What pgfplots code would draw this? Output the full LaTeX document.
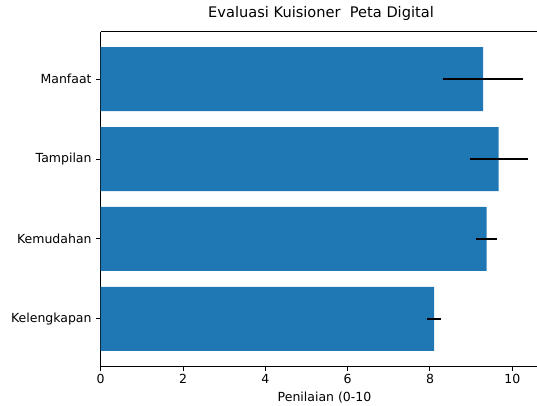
\documentclass[border=0pt]{standalone}
\usepackage{pgfplots}
\pgfplotsset{compat=1.18}
\usepackage{fontspec}
\setmainfont{DejaVu Sans}
\definecolor{mplblue}{HTML}{1F77B4}
\begin{document}
\begin{tikzpicture}
\useasboundingbox (-100.7pt,-39pt) rectangle (436.3pt,366pt);
\begin{axis}[
  at={(0,0)}, anchor=south west,
  scale only axis,
  width=436.3pt, height=334pt,
  xmin=0, xmax=10.6,
  ymin=-0.59, ymax=3.59,
  axis x line*=box, axis y line*=left,
  xtick={0,2,4,6,8,10},
  ytick={0,1,2,3},
  yticklabels={Kelengkapan,Kemudahan,Tampilan,Manfaat},
  xtick pos=left, ytick pos=left,
  tick align=outside,
  major tick length=4.6pt,
  every tick/.style={black, line width=1pt},
  axis line style={black, line width=1pt},
  tick label style={font=\fontsize{12.5}{15}\selectfont, text=black},
  yticklabel style={xshift=-1pt},
  /pgf/number format/assume math mode=true,
  xlabel={Penilaian (0-10},
  xlabel style={at={(axis description cs:0.513,0)}, anchor=base, yshift=-35pt, font=\fontsize{12.5}{15}\selectfont, text=black},
  title={Evaluasi Kuisioner\ \ Peta Digital},
  title style={at={(axis description cs:0.505,1)}, anchor=base, yshift=8pt, font=\fontsize{14.6}{18}\selectfont, text=black},
  xbar, bar width=0.8,
  clip=false,
]
\addplot[fill=mplblue, draw=none,
  error bars/x dir=both, error bars/x explicit,
  error bars/error mark=none,
  error bars/error bar style={black, line width=2pt}]
  table[x=x, y=y, x error=e] {
y x e
0 8.10 0.165
1 9.375 0.245
2 9.67 0.71
3 9.29 0.98
};
\end{axis}
\end{tikzpicture}
\end{document}
